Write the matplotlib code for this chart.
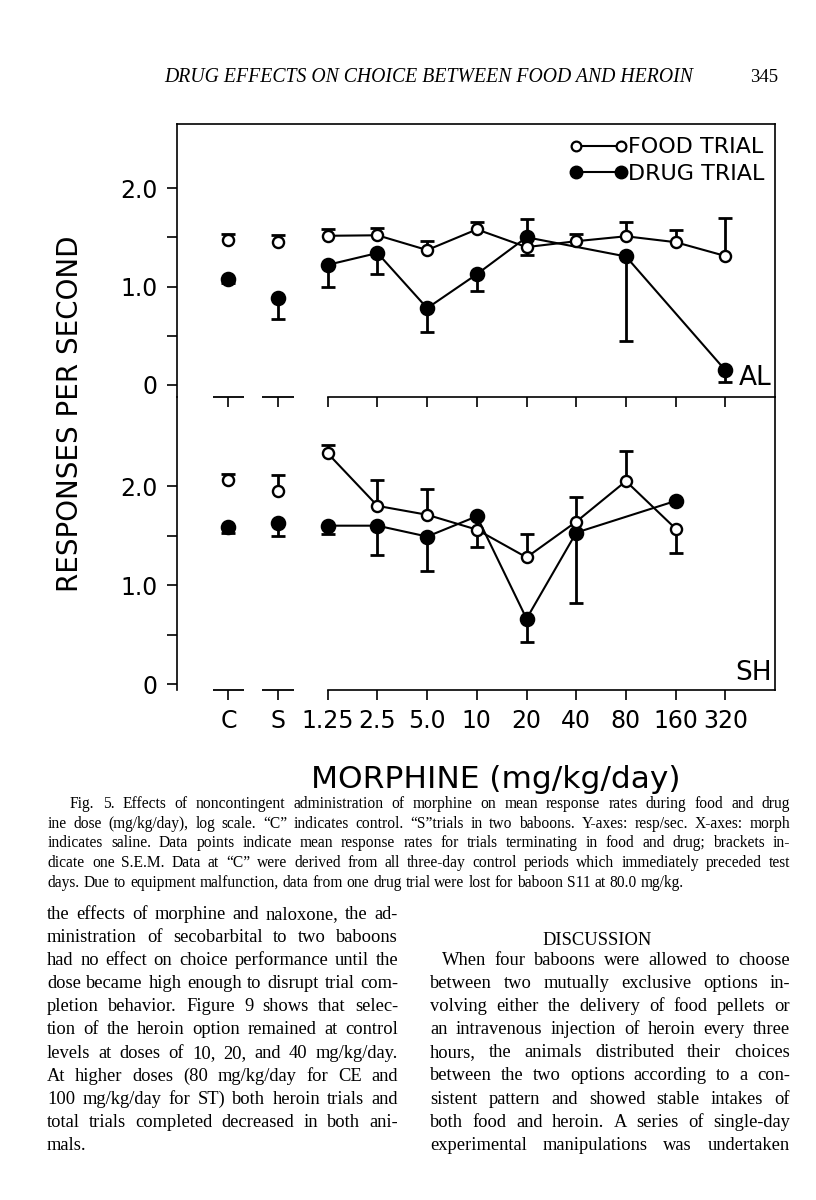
import numpy as np
import matplotlib
matplotlib.use("Agg")
import matplotlib.pyplot as plt
from matplotlib.lines import Line2D

W, H = 816, 1200

# doses in mg/kg/day, C = control, S = saline
dose_labels = ["C", "S", "1.25", "2.5", "5.0", "10", "20", "40", "80", "160", "320"]
doses = [1.25, 2.5, 5.0, 10, 20, 40, 80, 160, 320]

nan = np.nan
# responses per second; sem sign tells which side the bracket is drawn (+ above, - below)
al_food = [1.47, 1.45, 1.515, 1.52, 1.37, 1.58, 1.40, 1.46, 1.51, 1.45, 1.31]
al_food_sem = [0.065, 0.075, 0.07, 0.07, 0.09, 0.08, -0.08, 0.07, 0.15, 0.12, 0.39]
al_drug = [1.075, 0.88, 1.22, 1.34, 0.78, 1.125, 1.50, nan, 1.305, nan, 0.15]
al_drug_sem = [-0.04, -0.21, -0.23, -0.21, -0.24, -0.175, 0.185, 0, -0.855, 0, -0.12]

sh_food = [2.06, 1.95, 2.33, 1.80, 1.71, 1.56, 1.28, 1.64, 2.05, 1.57, nan]
sh_food_sem = [0.06, 0.16, 0.09, 0.26, 0.26, -0.18, 0.24, 0.25, 0.30, -0.25, 0]
sh_drug = [1.59, 1.63, 1.60, 1.60, 1.49, 1.695, 0.66, 1.53, nan, 1.85, nan]
sh_drug_sem = [-0.065, -0.13, -0.08, -0.295, -0.35, 0, -0.24, -0.71, 0, 0, 0]

header = "DRUG EFFECTS ON CHOICE BETWEEN FOOD AND HEROIN"
caption = [
    "Fig. 5. Effects of noncontingent administration of morphine on mean response rates during food and drug",
    "ine dose (mg/kg/day), log scale. \u201cC\u201d indicates control. \u201cS\u201dtrials in two baboons. Y-axes: resp/sec. X-axes: morph",
    "indicates saline. Data points indicate mean response rates for trials terminating in food and drug; brackets in-",
    "dicate one S.E.M. Data at \u201cC\u201d were derived from all three-day control periods which immediately preceded test",
    "days. Due to equipment malfunction, data from one drug trial were lost for baboon S11 at 80.0 mg/kg.",
]
left_col = [
    "the effects of morphine and naloxone, the ad-",
    "ministration of secobarbital to two baboons",
    "had no effect on choice performance until the",
    "dose became high enough to disrupt trial com-",
    "pletion behavior. Figure 9 shows that selec-",
    "tion of the heroin option remained at control",
    "levels at doses of 10, 20, and 40 mg/kg/day.",
    "At higher doses (80 mg/kg/day for CE and",
    "100 mg/kg/day for ST) both heroin trials and",
    "total trials completed decreased in both ani-",
    "mals.",
]
right_col = [
    "When four baboons were allowed to choose",
    "between two mutually exclusive options in-",
    "volving either the delivery of food pellets or",
    "an intravenous injection of heroin every three",
    "hours, the animals distributed their choices",
    "between the two options according to a con-",
    "sistent pattern and showed stable intakes of",
    "both food and heroin. A series of single-day",
    "experimental manipulations was undertaken",
]

plt.rcParams["font.family"] = ["DejaVu Sans"]
fig = plt.figure(figsize=(W / 100, H / 100), dpi=100)
renderer = fig.canvas.get_renderer()

xpos = np.concatenate([[-2.0, -1.0], np.log2(np.array(doses) / 1.25)])
xlim = (-3.035, 9.0)


def draw_panel(ax, food, food_sem, drug, drug_sem, ylim, tag, tag_y):
    ax.patch.set_alpha(0)
    for vals, sem, filled in ((drug, drug_sem, True), (food, food_sem, False)):
        y = np.array(vals, dtype=float)
        s = np.array(sem, dtype=float)
        has = ~np.isnan(y)
        bar = has & (s != 0)
        ends = y + s
        ax.vlines(xpos[bar], y[bar], ends[bar], color="k", lw=2.0, zorder=2)
        ax.plot(xpos[bar], ends[bar], ls="none", marker="_", ms=10, mew=2.0,
                color="k", zorder=2)
        joined = has & (xpos >= 0)
        ax.plot(xpos[joined], y[joined], color="k", lw=1.5, zorder=3)
        ax.plot(xpos[has], y[has], ls="none", marker="o",
                ms=9.5 if filled else 8, mfc="k" if filled else "white",
                mec="k", mew=1.7, zorder=4)
    ax.set_xlim(*xlim)
    ax.set_ylim(*ylim)
    ax.set_yticks([0, 0.5, 1.0, 1.5, 2.0])
    ax.set_yticklabels(["0", "", "1.0", "", "2.0"], fontsize=17)
    ax.set_xticks(xpos)
    ax.tick_params(axis="both", direction="out", length=7, width=1.2, pad=7)
    for side in ("left", "right", "top", "bottom"):
        ax.spines[side].set_linewidth(1.2)
    ax.spines["bottom"].set_bounds(0, xlim[1])
    # short bars under C and S
    ax.hlines([ylim[0]] * 2, xpos[:2] - 0.32, xpos[:2] + 0.32, color="k",
              lw=1.3, clip_on=False)
    ax.text(0.995, tag_y, tag, transform=ax.transAxes, ha="right", va="center",
            fontsize=19)


ax1 = fig.add_axes([177 / W, 1 - 397 / H, (775 - 177) / W, (397 - 124) / H])
draw_panel(ax1, al_food, al_food_sem, al_drug, al_drug_sem, (-0.122, 2.65), "AL", 0.07)
ax1.set_xticklabels([])

ax2 = fig.add_axes([177 / W, 1 - 690 / H, (775 - 177) / W, (690 - 397) / H])
draw_panel(ax2, sh_food, sh_food_sem, sh_drug, sh_drug_sem, (-0.06, 2.90), "SH", 0.058)
ax2.spines["top"].set_visible(False)
ax2.set_xticklabels(dose_labels, fontsize=17)
ax2.tick_params(axis="x", pad=7)

handles = [
    Line2D([], [], color="k", lw=1.5, marker="o", ms=7, mfc="white", mec="k", mew=1.6),
    Line2D([], [], color="k", lw=1.5, marker="o", ms=9, mfc="k", mec="k"),
]
ax1.legend(handles, ["FOOD TRIAL", "DRUG TRIAL"], numpoints=2, frameon=False,
           loc="upper right", bbox_to_anchor=(1.005, 1.0), borderaxespad=0.2,
           handlelength=2.6, handletextpad=0.05, labelspacing=0.3,
           prop={"size": 16})

fig.text(70 / W, 1 - 414 / H, "RESPONSES PER SECOND", rotation=90,
         ha="center", va="center", fontsize=20)
fig.text(496 / W, 1 - 779 / H, "MORPHINE (mg/kg/day)", ha="center",
         va="center", fontsize=22.5)

# page text
serif = "Liberation Serif"
fig.text(429 / W, 1 - 82 / H, header, ha="center", va="baseline",
         family=serif, style="italic", fontsize=14.2)
fig.text(778 / W, 1 - 82 / H, "345", ha="right", va="baseline",
         family=serif, fontsize=13.5)


def set_lines(lines, left, right, first_y, step, size, indent=0, ragged_last=True):
    for i, line in enumerate(lines):
        words = line.split()
        y = 1 - (first_y + i * step) / H
        arts = [fig.text(0, y, w, fontsize=size, family=serif, va="baseline")
                for w in words]
        widths = [a.get_window_extent(renderer).width for a in arts]
        x0 = left + (indent if i == 0 else 0)
        space = size * 100 / 72 * 0.25
        if i == len(lines) - 1 and ragged_last:
            gap = space
        else:
            gap = (right - x0 - sum(widths)) / max(len(words) - 1, 1)
            gap = max(gap, 0.6 * space)
        x = x0
        for a, w in zip(arts, widths):
            a.set_x(x / W)
            x += w + gap


set_lines(caption, 48, 790, 808, 19.7, 11.2, indent=22)
set_lines(left_col, 47, 398, 919, 23.1, 13.3)
set_lines(right_col, 430, 790, 965, 23.1, 13.3, indent=12, ragged_last=False)
fig.text(597 / W, 1 - 945 / H, "DISCUSSION", ha="center", va="baseline",
         family=serif, fontsize=13.3)

fig.savefig("out.png", dpi=100)
